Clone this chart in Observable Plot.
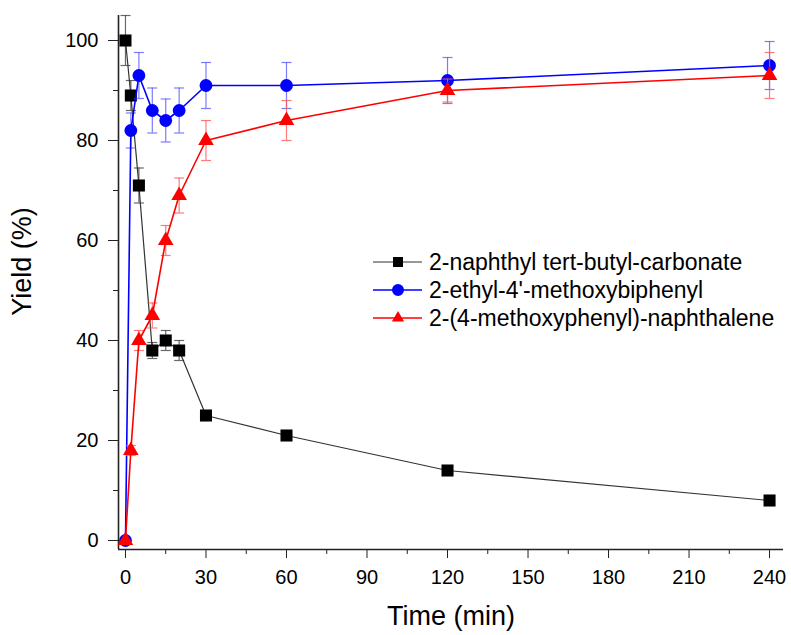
<!DOCTYPE html>
<html><head><meta charset="utf-8">
<script src="https://cdn.jsdelivr.net/npm/d3@7"></script>
<script src="https://cdn.jsdelivr.net/npm/@observablehq/plot@0.6"></script>
<style>
body{margin:0;background:#fff;font-family:Arial,"Liberation Sans",sans-serif}
#wrap{position:relative;width:791px;height:635px}
#legend{position:absolute;left:0;top:0}
</style></head><body><div id="wrap"></div>
<script>
const time = [0, 2, 5, 10, 15, 20, 30, 60, 120, 240];
const seriesNames = ["2-naphthyl tert-butyl-carbonate", "2-ethyl-4'-methoxybiphenyl", "2-(4-methoxyphenyl)-naphthalene"];
const carbonate = [100, 89, 71, 38, 40, 38, 25, 21, 14, 8];
const carbonateErr = [5, 3, 3.5, 1.6, 2, 2, 0.6, 0.6, 0.6, 0.6];
const biphenyl = [0, 82, 93, 86, 84, 86, 91, 91, 92, 95];
const biphenylErr = [0, 3.5, 4.6, 4.5, 4.3, 4.5, 4.6, 4.6, 4.6, 4.8];
const naphthalene = [0, 18, 40, 45, 60, 69, 80, 84, 90, 93];
const naphthaleneErr = [0, 1, 2, 2.5, 3, 3.5, 4, 4, 2.3, 4.6];
const seriesColors = ["#000000", "#0000ff", "#ff0000"];
const lineColors = ["#333333", "#0000ff", "#ff0000"];
const errColors = ["#444444", "#5a5aff", "#ff5a5a"];
const seriesSymbols = ["square", "circle", "triangle"];
const xTicks = [0, 30, 60, 90, 120, 150, 180, 210, 240];
const xMinorTicks = [15, 45, 75, 105, 135, 165, 195, 225];
const yTicks = [0, 20, 40, 60, 80, 100];
const yMinorTicks = [10, 30, 50, 70, 90];

const xDomain = [-2.6, 245.2];
const yDomain = [-1.8, 105];

const valuesList = [carbonate, biphenyl, naphthalene];
const errList = [carbonateErr, biphenylErr, naphthaleneErr];
const symbolR = [6.8, 6.4, 5.8];

const cap = {draw(ctx) { ctx.moveTo(-5, 0); ctx.lineTo(5, 0); }};

const marks = [];
valuesList.forEach((vals, k) => {
  const rows = time.map((t, i) => ({t, y: vals[i], lo: vals[i] - errList[k][i], hi: vals[i] + errList[k][i], e: errList[k][i]}));
  const withErr = rows.filter(d => d.e > 0);
  marks.push(Plot.ruleX(withErr, {x: "t", y1: "lo", y2: "hi", stroke: errColors[k], strokeWidth: 1.2, strokeOpacity: 0.8}));
  marks.push(Plot.dot(withErr, {x: "t", y: "lo", symbol: cap, stroke: errColors[k], strokeWidth: 1.2, strokeOpacity: 0.8}));
  marks.push(Plot.dot(withErr, {x: "t", y: "hi", symbol: cap, stroke: errColors[k], strokeWidth: 1.2, strokeOpacity: 0.8}));
  marks.push(Plot.line(rows, {x: "t", y: "y", stroke: lineColors[k], strokeWidth: k === 0 ? 1.2 : 1.6}));
  marks.push(Plot.dot(rows, {x: "t", y: "y", symbol: seriesSymbols[k], r: symbolR[k], fill: seriesColors[k], stroke: "none"}));
});

const chart = Plot.plot({
  width: 791,
  height: 635,
  marginLeft: 118,
  marginRight: 8,
  marginTop: 15,
  marginBottom: 86,
  style: {fontFamily: "Arial, 'Liberation Sans', sans-serif", color: "#000", background: "#fff"},
  x: {domain: xDomain},
  y: {domain: yDomain},
  marks: [
    Plot.axisX(xTicks, {tickSize: 9, tickPadding: 11, fontSize: 20, label: null, stroke: "#222"}),
    Plot.axisX(xMinorTicks, {tickSize: 5, tickFormat: () => "", label: null, stroke: "#222"}),
    Plot.axisY(yTicks, {tickSize: 10, tickPadding: 10, fontSize: 20, label: null, stroke: "#222"}),
    Plot.axisY(yMinorTicks, {tickSize: 5, tickFormat: () => "", label: null, stroke: "#222"}),
    Plot.ruleX([xDomain[0]], {stroke: "#222", strokeWidth: 1.6}),
    Plot.ruleY([yDomain[0]], {stroke: "#222", strokeWidth: 1.6}),
    Plot.text(["Time (min)"], {frameAnchor: "bottom", textAnchor: "middle", lineAnchor: "middle", dy: 67, fontSize: 27, fill: "#000"}),
    Plot.text(["Yield (%)"], {frameAnchor: "left", textAnchor: "middle", lineAnchor: "middle", rotate: -90, dx: -96, dy: -21, fontSize: 27, fill: "#000"}),
    ...marks
  ]
});
const wrap = document.getElementById("wrap");
wrap.appendChild(chart);

// legend overlay
const leg = d3.select(wrap).append("svg").attr("id", "legend").attr("width", 791).attr("height", 635)
  .style("pointer-events", "none");
const legY = [262, 290, 318];
seriesNames.forEach((name, k) => {
  const g = leg.append("g").attr("transform", `translate(0,${legY[k]})`);
  g.append("line").attr("x1", 373).attr("x2", 422).attr("y1", 0).attr("y2", 0)
    .attr("stroke", lineColors[k]).attr("stroke-width", k === 0 ? 1.2 : 1.6);
  const sym = {square: d3.symbolSquare, circle: d3.symbolCircle, triangle: d3.symbolTriangle}[seriesSymbols[k]];
  const sizes = [100, 113, 65];
  g.append("path").attr("d", d3.symbol(sym, sizes[k])()).attr("transform", "translate(398,0)").attr("fill", seriesColors[k]);
  g.append("text").attr("x", 429).attr("y", 0).attr("dy", "0.35em").attr("font-size", 23)
    .attr("font-family", "Arial, 'Liberation Sans', sans-serif").attr("fill", "#000").text(name);
});
</script></body></html>
